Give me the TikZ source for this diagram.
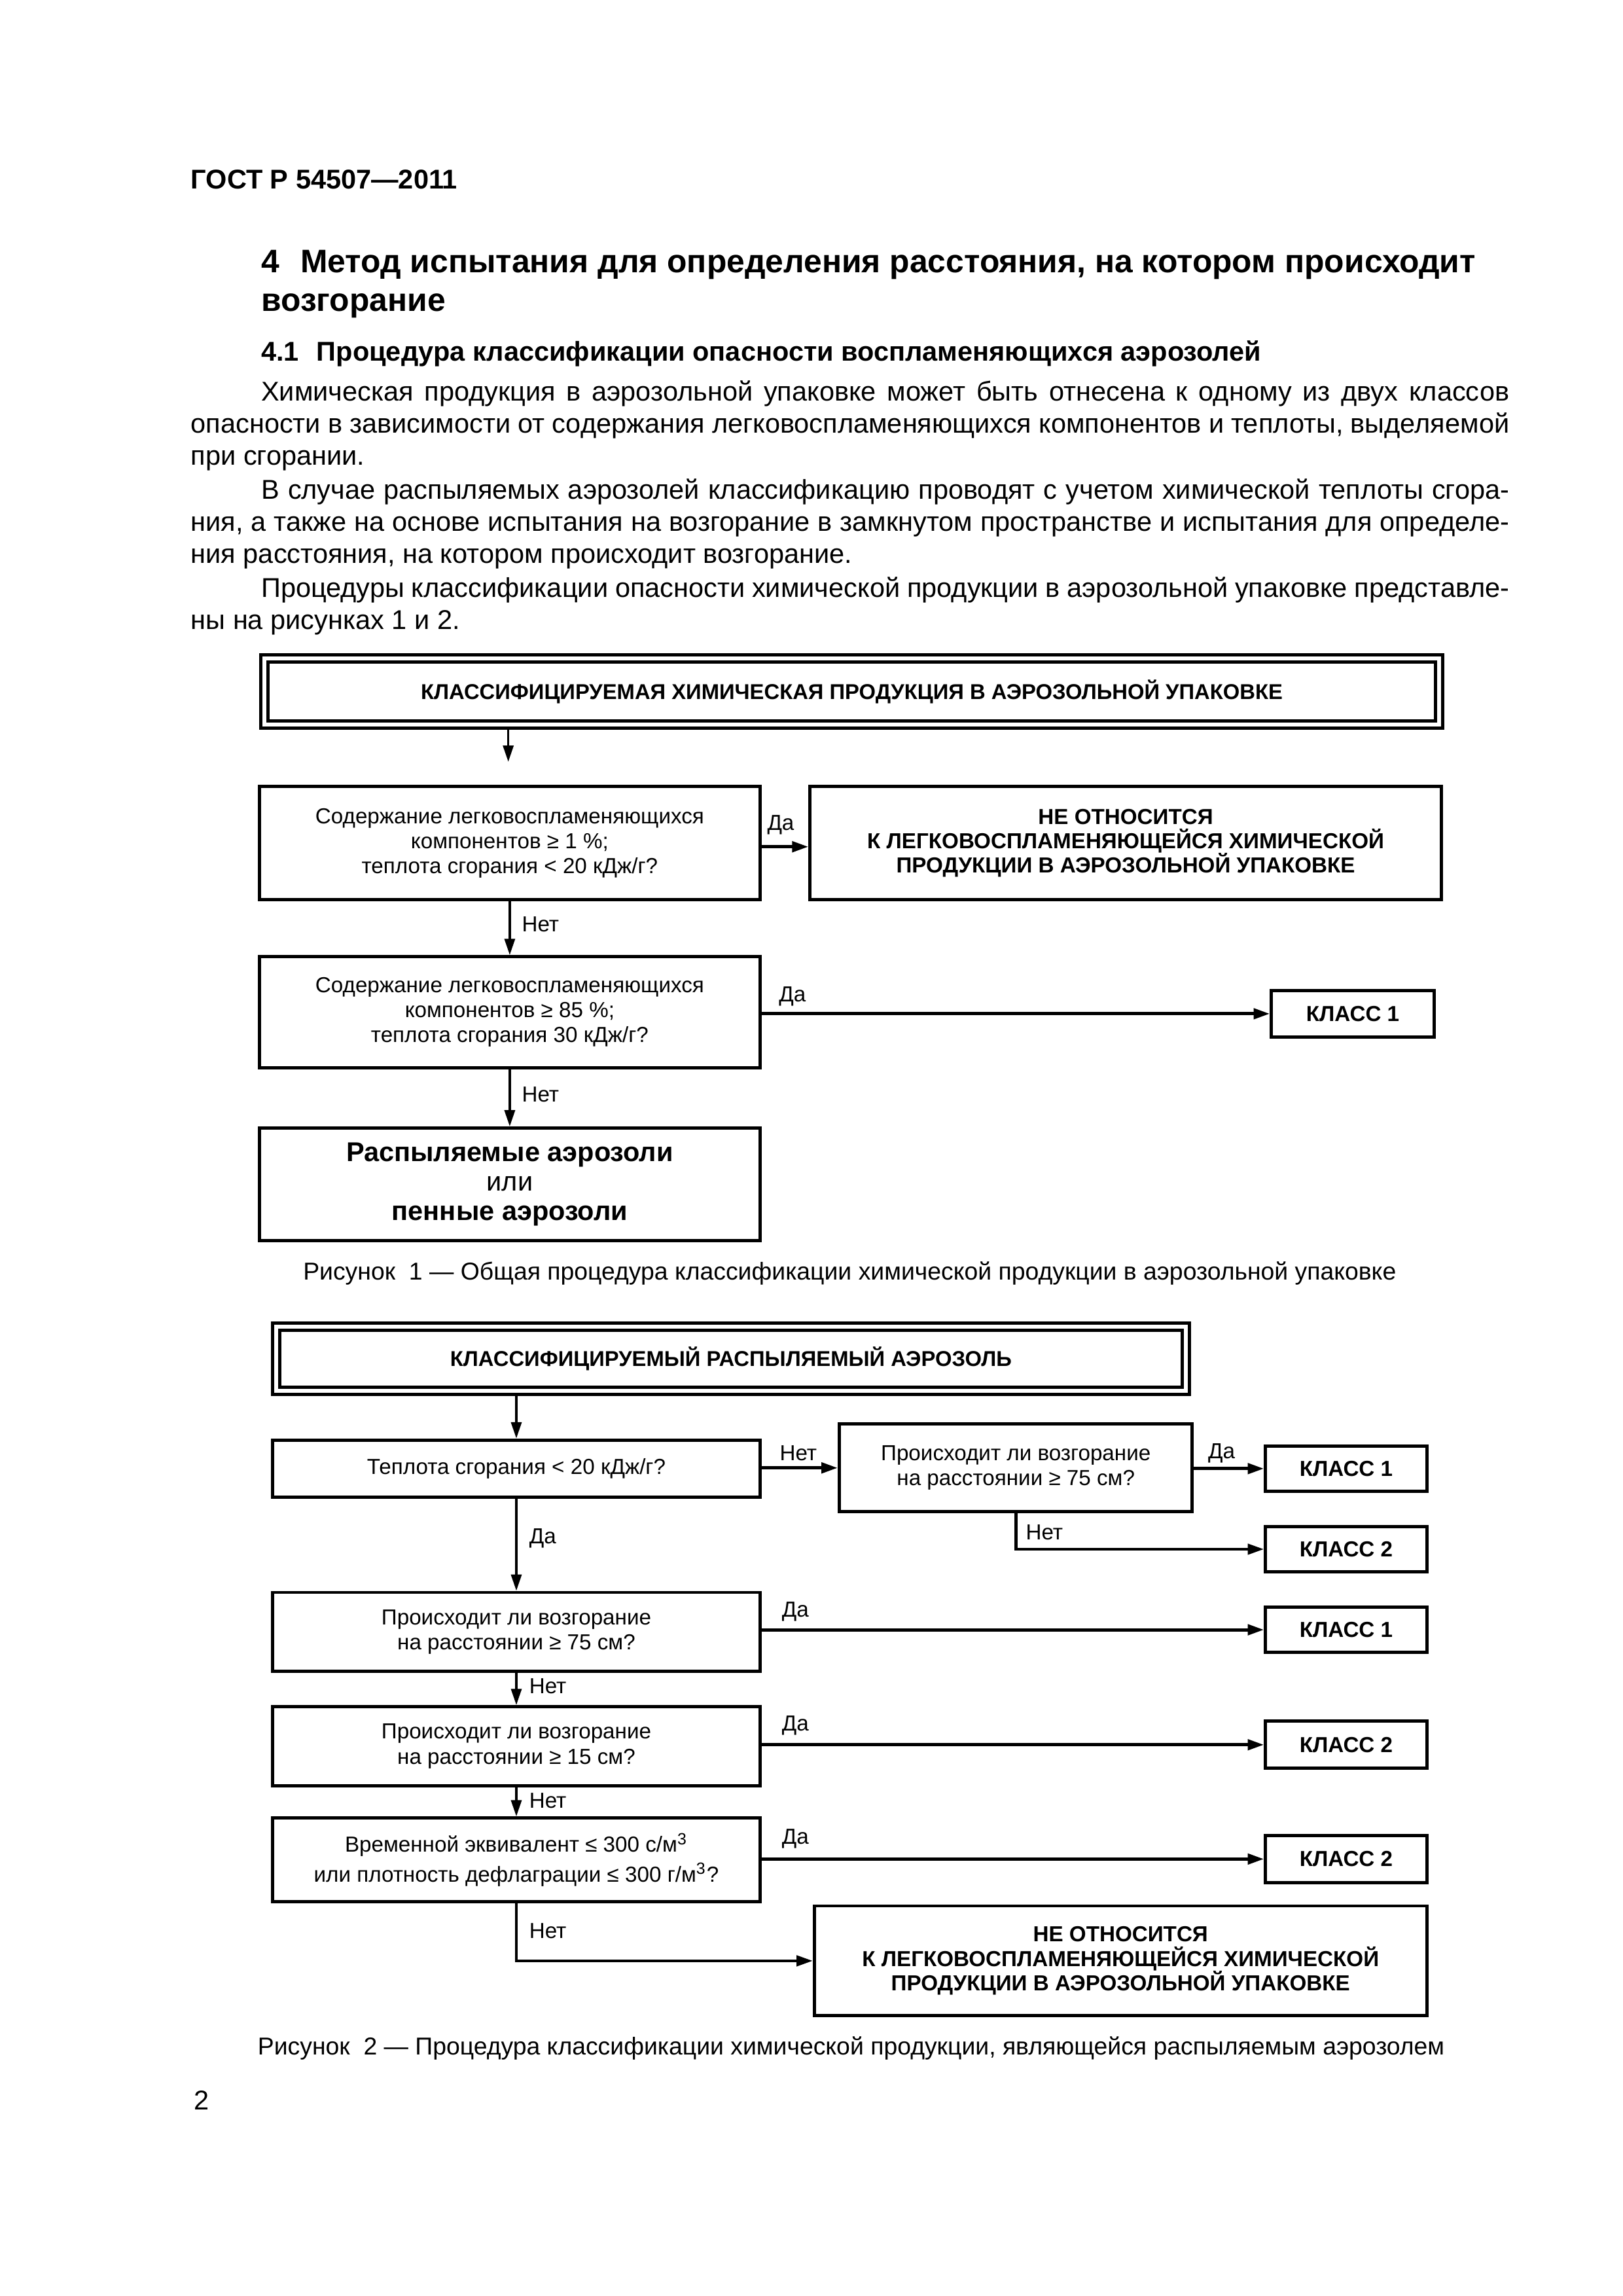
\documentclass[tikz,border=0pt]{standalone}
\usepackage{fontspec}
\setmainfont{Liberation Sans}
\usetikzlibrary{arrows.meta,calc}
\newcommand\pxl{0.189531mm}
\begin{document}
\begin{tikzpicture}[x=0.189531mm,y=-0.189531mm,
  box/.style={draw, line width=1.2pt, inner sep=0pt, align=center, font=\fontsize{8}{9.2}\selectfont},
  bbox/.style={box, font=\bfseries\fontsize{8}{9}\selectfont},
  dbox/.style={draw, line width=1.2pt, double, double distance=1.44pt, outer sep=1.92pt, inner sep=0pt, align=center, font=\bfseries\fontsize{7.9}{9}\selectfont},
  tip/.style={-{Triangle[length=2.1mm,width=1.35mm]}},
  vcon/.style={tip, line width=0.8pt},
  hcon/.style={tip, line width=1.2pt},
  lbl/.style={inner sep=0pt, font=\fontsize{8}{9}\selectfont},
  body/.style={inner sep=0pt, anchor=base west, font=\fontsize{10}{12}\selectfont},
  figcap/.style={inner sep=0pt, font=\fontsize{9}{11}\selectfont}
]
\useasboundingbox (0,0) rectangle (1108,1567.3);
\fill[white] (0,0) rectangle (1108,1567.3);

% ---------- page text ----------
\node[body, font=\bfseries\fontsize{10}{12}\selectfont] (hdr) at (130,129) {ГОСТ Р 54507—2011};
\node[body, font=\bfseries\fontsize{12}{14}\selectfont] (h1a) at (178,186) {4\hspace{0.65em}Метод испытания для определения расстояния, на котором происходит};
\node[body, font=\bfseries\fontsize{12}{14}\selectfont] (h1b) at (178,212.5) {возгорание};
\node[body, font=\bfseries\fontsize{10}{12}\selectfont] (h2) at (178,246.5) {4.1\hspace{0.65em}Процедура классификации опасности воспламеняющихся аэрозолей};

\node[body] (p1) at (178,273.5) {\makebox[161.48mm][s]{Химическая продукция в аэрозольной упаковке может быть отнесена к одному из двух классов}};
\node[body] (p2) at (130,295.5) {\makebox[170.58mm][s]{опасности в зависимости от содержания легковоспламеняющихся компонентов и теплоты, выделяемой}};
\node[body] (p3) at (130,317.5) {при сгорании.};
\node[body] (p4) at (178,340.5) {\makebox[161.48mm][s]{В случае распыляемых аэрозолей классификацию проводят с учетом химической теплоты сгора-}};
\node[body] (p5) at (130,362.5) {\makebox[170.58mm][s]{ния, а также на основе испытания на возгорание в замкнутом пространстве и испытания для определе-}};
\node[body] (p6) at (130,384.5) {ния расстояния, на котором происходит возгорание.};
\node[body] (p7) at (178,407.5) {\makebox[161.48mm][s]{Процедуры классификации опасности химической продукции в аэрозольной упаковке представле-}};
\node[body] (p8) at (130,429.5) {ны на рисунках 1 и 2.};

% ---------- Figure 1 ----------
\node[dbox, minimum width={802*\pxl}, minimum height={45*\pxl}] (db1) at (581.5,472) {КЛАССИФИЦИРУЕМАЯ ХИМИЧЕСКАЯ ПРОДУКЦИЯ В АЭРОЗОЛЬНОЙ УПАКОВКЕ};
\coordinate (a0) at (347,520);
\draw[vcon] (db1.south -| a0) -- (a0);

\node[box, minimum width={342*\pxl}, minimum height={77*\pxl}] (q1) at (348,575.5) {Содержание легковоспламеняющихся\\компонентов ≥ 1~\%;\\теплота сгорания < 20 кДж/г?};
\node[bbox, minimum width={431*\pxl}, minimum height={77*\pxl}] (n1) at (768.5,575.5) {НЕ ОТНОСИТСЯ\\К ЛЕГКОВОСПЛАМЕНЯЮЩЕЙСЯ ХИМИЧЕСКОЙ\\ПРОДУКЦИИ В АЭРОЗОЛЬНОЙ УПАКОВКЕ};
\draw[hcon] (q1.east |- 0,578) -- (n1.west |- 0,578);
\node[lbl] (l1) at (533,563) {Да};

\node[box, minimum width={342*\pxl}, minimum height={76*\pxl}] (q2) at (348,691) {Содержание легковоспламеняющихся\\компонентов ≥ 85~\%;\\теплота сгорания 30 кДж/г?};
\draw[vcon] (q1.south) -- (q2.north);
\node[lbl, anchor=west] (l2) at (356,631) {Нет};

\node[bbox, minimum width={111*\pxl}, minimum height={32*\pxl}] (k1) at (923.5,692) {КЛАСС 1};
\draw[hcon] (q2.east |- k1.west) -- (k1.west);
\node[lbl] (l3) at (541,680) {Да};

\node[box, minimum width={342*\pxl}, minimum height={77*\pxl}, font=\fontsize{10}{10.9}\selectfont] (r1) at (348,808.5) {\textbf{Распыляемые аэрозоли}\\или\\\textbf{пенные аэрозоли}};
\draw[vcon] (q2.south) -- (r1.north);
\node[lbl, anchor=west] (l4) at (356,747) {Нет};

\node[figcap] (cap1) at (580,869) {Рисунок\ \ 1 — Общая процедура классификации химической продукции в аэрозольной упаковке};

% ---------- Figure 2 ----------
\node[dbox, minimum width={621*\pxl}, minimum height={44*\pxl}] (db2) at (499,927.5) {КЛАССИФИЦИРУЕМЫЙ РАСПЫЛЯЕМЫЙ АЭРОЗОЛЬ};

\node[box, minimum width={333*\pxl}, minimum height={39*\pxl}] (b1) at (352.5,1002.5) {Теплота сгорания < 20 кДж/г?};
\draw[vcon] (db2.south -| b1.north) -- (b1.north);

\node[box, minimum width={241*\pxl}, minimum height={60*\pxl}] (b2) at (693.5,1002) {Происходит ли возгорание\\на расстоянии ≥ 75 см?};
\draw[hcon] (b1.east |- b2.west) -- (b2.west);
\node[lbl] (l5) at (545,992) {Нет};

\node[bbox, minimum width={110*\pxl}, minimum height={31*\pxl}] (k1a) at (919,1002.5) {КЛАСС 1};
\draw[hcon] (b2.east |- k1a.west) -- (k1a.west);
\node[lbl] (l6) at (834,992) {Да};

\node[bbox, minimum width={110*\pxl}, minimum height={31*\pxl}] (k2a) at (919,1057.5) {КЛАСС 2};
\draw[hcon, line width=1.1pt] (b2.south) |- (k2a.west);
\node[lbl, anchor=west] (l7) at (700,1046) {Нет};

\node[box, minimum width={333*\pxl}, minimum height={54*\pxl}] (b3) at (352.5,1114) {Происходит ли возгорание\\на расстоянии ≥ 75 см?};
\draw[vcon] (b1.south) -- (b3.north);
\node[lbl, anchor=west] (l8) at (361,1050) {Да};

\node[bbox, minimum width={110*\pxl}, minimum height={31*\pxl}] (k1b) at (919,1112.5) {КЛАСС 1};
\draw[hcon] (b3.east |- k1b.west) -- (k1b.west);
\node[lbl] (l9) at (543,1100) {Да};

\node[box, minimum width={333*\pxl}, minimum height={54*\pxl}] (b4) at (352.5,1192) {Происходит ли возгорание\\на расстоянии ≥ 15 см?};
\draw[vcon] (b3.south) -- (b4.north);
\node[lbl, anchor=west] (l10) at (361,1151) {Нет};

\node[bbox, minimum width={110*\pxl}, minimum height={32*\pxl}] (k2b) at (919,1191) {КЛАСС 2};
\draw[hcon] (b4.east |- k2b.west) -- (k2b.west);
\node[lbl] (l11) at (543,1178) {Да};

\node[box, minimum width={333*\pxl}, minimum height={57*\pxl}, font=\fontsize{8}{11}\selectfont] (b5) at (352.5,1269.5) {Временной эквивалент ≤ 300 с/м\textsuperscript{3}\\или плотность дефлаграции ≤ 300 г/м\textsuperscript{3}?};
\draw[vcon] (b4.south) -- (b5.north);
\node[lbl, anchor=west] (l12) at (361,1229) {Нет};

\node[bbox, minimum width={110*\pxl}, minimum height={32*\pxl}] (k2c) at (919,1269) {КЛАСС 2};
\draw[hcon] (b5.east |- k2c.west) -- (k2c.west);
\node[lbl] (l13) at (543,1255) {Да};

\node[bbox, minimum width={418*\pxl}, minimum height={75*\pxl}] (n2) at (765,1338.5) {НЕ ОТНОСИТСЯ\\К ЛЕГКОВОСПЛАМЕНЯЮЩЕЙСЯ ХИМИЧЕСКОЙ\\ПРОДУКЦИИ В АЭРОЗОЛЬНОЙ УПАКОВКЕ};
\draw[hcon, line width=1.1pt] (b5.south) |- (n2.west);
\node[lbl, anchor=west] (l14) at (361,1318) {Нет};

\node[figcap] (cap2) at (581,1398) {Рисунок\ \ 2 — Процедура классификации химической продукции, являющейся распыляемым аэрозолем};

\node[body] (pg) at (132,1440) {2};
\end{tikzpicture}
\end{document}
